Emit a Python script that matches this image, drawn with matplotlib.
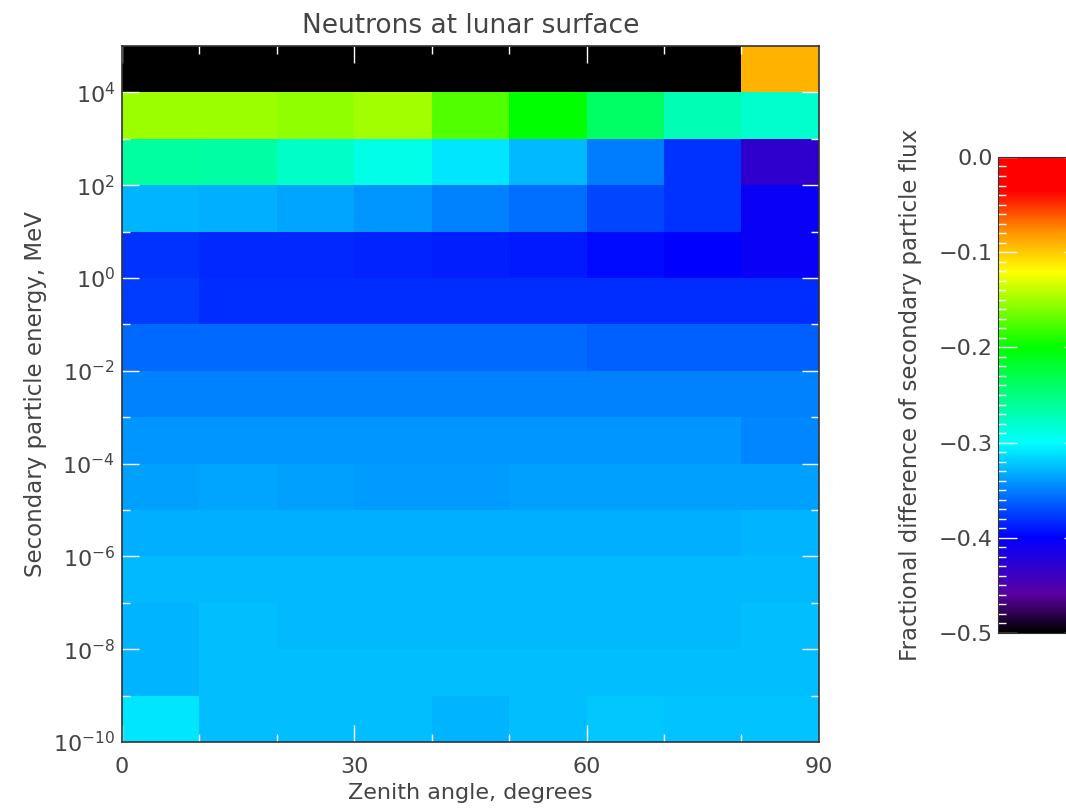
import numpy as np
import matplotlib
matplotlib.use("Agg")
import matplotlib.pyplot as plt
from matplotlib.colors import LinearSegmentedColormap
from matplotlib.ticker import FixedLocator, MultipleLocator, FuncFormatter

# zenith angle bin edges (degrees) and energy decade edges (MeV)
zenith_edges = [0, 10, 20, 30, 40, 50, 60, 70, 80, 90]
energy_exp_edges = list(range(-10, 6))

# fractional difference per cell, rows from lowest energy bin (1e-10..1e-9) upward
row_e_m10 = [-0.310, -0.325, -0.325, -0.325, -0.329, -0.325, -0.322, -0.324, -0.324]
row_e_m9 = [-0.329, -0.325, -0.325, -0.325, -0.325, -0.325, -0.325, -0.325, -0.325]
row_e_m8 = [-0.329, -0.325, -0.327, -0.327, -0.327, -0.327, -0.327, -0.327, -0.325]
row_e_m7 = [-0.327, -0.327, -0.327, -0.327, -0.327, -0.327, -0.327, -0.327, -0.327]
row_e_m6 = [-0.331, -0.331, -0.331, -0.331, -0.331, -0.331, -0.331, -0.331, -0.329]
row_e_m5 = [-0.337, -0.335, -0.336, -0.338, -0.338, -0.336, -0.336, -0.336, -0.336]
row_e_m4 = [-0.341, -0.341, -0.341, -0.341, -0.341, -0.341, -0.341, -0.341, -0.347]
row_e_m3 = [-0.349, -0.349, -0.349, -0.349, -0.349, -0.349, -0.349, -0.349, -0.349]
row_e_m2 = [-0.359, -0.359, -0.359, -0.359, -0.359, -0.359, -0.363, -0.363, -0.363]
row_e_m1 = [-0.376, -0.381, -0.381, -0.381, -0.381, -0.381, -0.382, -0.382, -0.382]
row_e_0 = [-0.380, -0.384, -0.384, -0.386, -0.388, -0.390, -0.396, -0.400, -0.405]
row_e_1 = [-0.329, -0.331, -0.335, -0.341, -0.349, -0.357, -0.373, -0.380, -0.405]
row_e_2 = [-0.263, -0.265, -0.278, -0.290, -0.310, -0.327, -0.351, -0.380, -0.430]
row_e_3 = [-0.151, -0.151, -0.156, -0.150, -0.175, -0.200, -0.240, -0.270, -0.280]
row_e_4 = [-0.600, -0.600, -0.600, -0.600, -0.600, -0.600, -0.600, -0.600, -0.090]

rows = [row_e_m10, row_e_m9, row_e_m8, row_e_m7, row_e_m6, row_e_m5, row_e_m4,
        row_e_m3, row_e_m2, row_e_m1, row_e_0, row_e_1, row_e_2, row_e_3, row_e_4]

# IDL-like rainbow: black -> purple -> blue -> cyan -> green -> yellow -> red
cmap = LinearSegmentedColormap.from_list("idl_rainbow", [
    (0.00, (0, 0, 0)),
    (0.08, (90 / 255, 0, 160 / 255)),
    (0.20, (0, 0, 1)),
    (0.40, (0, 1, 1)),
    (0.60, (0, 1, 0)),
    (0.76, (1, 1, 0)),
    (0.84, (1, 0.6, 0)),
    (0.93, (1, 0, 0)),
    (1.00, (1, 0, 0)),
])
cmap.set_under("black")

text_col = "#444444"
plt.rcParams["font.family"] = "DejaVu Sans"

fig = plt.figure(figsize=(10.66, 8.10), dpi=100)
ax = fig.add_axes([0.1144, 0.0840, 0.6538, 0.8593])

x = np.array(zenith_edges)
y = 10.0 ** np.array(energy_exp_edges)
z = np.array(rows)
mesh = ax.pcolormesh(x, y, z, cmap=cmap, vmin=-0.5, vmax=0.0, shading="flat")

ax.set_yscale("log")
ax.set_xlim(0, 90)
ax.set_ylim(1e-10, 1e5)

ax.xaxis.set_major_locator(FixedLocator([0, 30, 60, 90]))
ax.xaxis.set_minor_locator(FixedLocator([10, 20, 40, 50, 70, 80]))
ax.yaxis.set_major_locator(FixedLocator([10.0 ** k for k in range(-10, 5, 2)]))
ax.yaxis.set_minor_locator(FixedLocator([10.0 ** k for k in range(-9, 5, 2)]))
ax.yaxis.set_minor_formatter(FuncFormatter(lambda v, p: ""))
ax.yaxis.set_major_formatter(FuncFormatter(lambda v, p: r"$10^{%d}$" % round(np.log10(v))))

ax.tick_params(which="both", direction="in", color="white", top=True, right=True,
               labelcolor=text_col, labelsize=16)
ax.tick_params(which="major", length=12, width=1)
ax.tick_params(which="minor", length=6, width=1)
ax.tick_params(axis="x", pad=11)
ax.tick_params(axis="y", pad=5)
for s in ax.spines.values():
    s.set_color("#333333")
    s.set_linewidth(1.2)

ax.set_title("Neutrons at lunar surface", fontsize=19, color=text_col, pad=9)
ax.set_xlabel("Zenith angle, degrees", fontsize=16, color=text_col, labelpad=4)
ax.set_ylabel("Secondary particle energy, MeV", fontsize=16.5, color=text_col, labelpad=4)

# colorbar
cax = fig.add_axes([0.9362, 0.2185, 0.08, 0.5877])
cb = fig.colorbar(mesh, cax=cax)
cb.outline.set_edgecolor("#333333")
cb.set_ticks([-0.5, -0.4, -0.3, -0.2, -0.1, 0.0])
cb.set_ticklabels(["\u22120.5", "\u22120.4", "\u22120.3", "\u22120.2", "\u22120.1", "0.0"])
cax.yaxis.set_minor_locator(MultipleLocator(0.01))
cax.yaxis.set_ticks_position("both")
cax.yaxis.set_label_position("left")
cax.tick_params(which="both", direction="in", color="white", left=True, right=True,
                labelleft=True, labelright=False, labelcolor=text_col, labelsize=16)
cax.tick_params(which="major", length=14, width=1)
cax.tick_params(which="minor", length=6, width=1)
cb.set_label("Fractional difference of secondary particle flux", fontsize=16.5,
             color=text_col, labelpad=12)

fig.savefig("out.png", dpi=100)
